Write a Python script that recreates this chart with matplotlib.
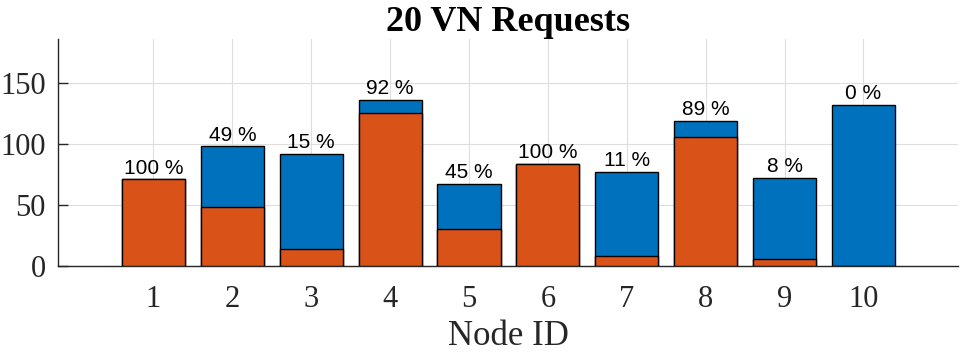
import numpy as np
import matplotlib
matplotlib.use("Agg")
import matplotlib.pyplot as plt

# data
node_ids = np.arange(1, 11)
total    = [71, 98, 92, 136, 67, 84, 77, 119, 72, 132]
embedded = [71, 48, 14, 125, 30, 84, 8.5, 106, 6, 0]
pct_lbl  = ["100 %", "49 %", "15 %", "92 %", "45 %", "100 %", "11 %", "89 %", "8 %", "0 %"]

BLUE   = "#0072BD"
ORANGE = "#D95319"
DARK   = "#262626"

fig = plt.figure(figsize=(9.61, 3.55), dpi=100)
ax = fig.add_axes([0.0604, 0.2507, 0.9366, 0.6393])

ax.bar(node_ids, total, width=0.8, color=BLUE, edgecolor="black", lw=1.0, zorder=3)
ax.bar(node_ids, embedded, width=0.8, color=ORANGE, edgecolor="black", lw=1.0, zorder=3)

for x, h, s in zip(node_ids, total, pct_lbl):
    ax.text(x, h + 1.5, s, ha="center", va="bottom", fontsize=15,
            family="Liberation Sans", color="black", zorder=4)

ax.set_xlim(-0.21, 11.2)
ax.set_ylim(0, 186)
ax.set_xticks(node_ids)
ax.set_yticks([0, 50, 100, 150])
ax.grid(True, color="#dedede", lw=0.8, zorder=0)
ax.set_axisbelow(True)

for side in ["top", "right"]:
    ax.spines[side].set_visible(False)
for side in ["left", "bottom"]:
    ax.spines[side].set_color(DARK)
    ax.spines[side].set_linewidth(1.0)

ax.tick_params(direction="in", length=7, width=1.0, colors=DARK,
               labelsize=22, pad=9)
ax.tick_params(axis="x", pad=14)
for lbl in ax.get_xticklabels() + ax.get_yticklabels():
    lbl.set_family("Liberation Serif")

ax.set_xlabel("Node ID", family="Liberation Serif", fontsize=25,
              color=DARK, labelpad=4)
ax.set_title("20 VN Requests", family="Liberation Serif", fontsize=26,
             fontweight="bold", pad=5)

fig.savefig("out.png", dpi=100)
